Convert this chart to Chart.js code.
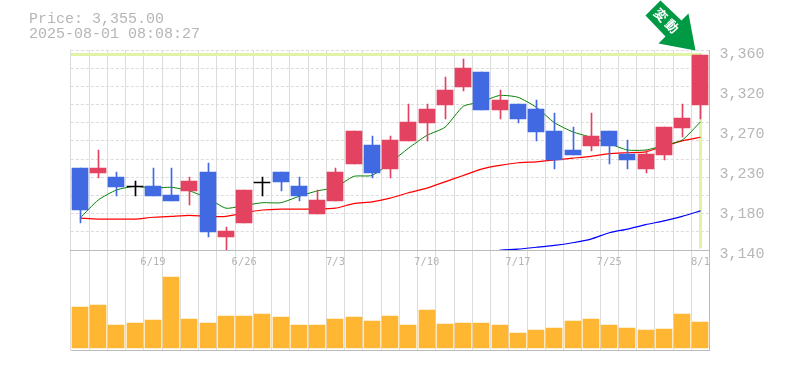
<!DOCTYPE html>
<html lang="ja">
<head>
<meta charset="utf-8">
<title>Price chart</title>
<script src="https://cdn.jsdelivr.net/npm/chart.js@4"></script>
<style>
    html, body { margin: 0; padding: 0; background: #ffffff; }
    canvas { display: block; }
</style>
</head>
<body>
<canvas id="priceChart" width="785" height="370"></canvas>
<script>
// Daily sessions
const dates = ['6/13', '6/16', '6/17', '6/18', '6/19', '6/20', '6/23', '6/24', '6/25', '6/26', '6/27', '6/30',
    '7/1', '7/2', '7/3', '7/4', '7/7', '7/8', '7/9', '7/10', '7/11', '7/14', '7/15', '7/16', '7/17', '7/18',
    '7/22', '7/23', '7/24', '7/25', '7/28', '7/29', '7/30', '7/31', '8/1'];
const dateTicks = ['6/19', '6/26', '7/3', '7/10', '7/17', '7/25', '8/1'];

// Candles
const opens = [3230, 3225, 3220, 3210, 3210, 3200, 3205, 3226, 3154, 3170, 3215, 3226, 3210, 3180, 3194, 3235, 3255, 3229,
    3260, 3280, 3300, 3319, 3336, 3294, 3301, 3295, 3271, 3250, 3254, 3271, 3246, 3229, 3245, 3274, 3300];
const highs = [3230, 3250, 3226, 3216, 3230, 3230, 3220, 3236, 3165, 3206, 3220, 3226, 3220, 3206, 3230, 3271, 3265, 3265,
    3301, 3301, 3330, 3350, 3336, 3316, 3301, 3305, 3291, 3275, 3291, 3271, 3261, 3250, 3275, 3301, 3355];
const lows = [3170, 3219, 3199, 3199, 3199, 3194, 3190, 3154, 3140, 3170, 3199, 3205, 3194, 3180, 3194, 3235, 3219, 3219,
    3260, 3260, 3284, 3315, 3294, 3284, 3280, 3260, 3229, 3245, 3249, 3235, 3229, 3225, 3239, 3264, 3284];
const closes = [3184, 3230, 3209, 3210, 3199, 3194, 3216, 3160, 3161, 3206, 3215, 3215, 3199, 3195, 3226, 3271, 3225, 3261,
    3281, 3295, 3316, 3340, 3294, 3305, 3284, 3270, 3239, 3245, 3265, 3254, 3239, 3246, 3275, 3285, 3355];

// Moving averages
const maShort = [3175, 3195, 3206, 3210, 3208, 3209, 3205, 3197, 3186, 3189, 3192, 3192, 3199, 3205, 3209, 3221, 3222, 3236,
    3252, 3266, 3275, 3298, 3303, 3310, 3308, 3297, 3280, 3270, 3264, 3257, 3250, 3250, 3255, 3261, 3281];
const maMiddle = [3175, 3174, 3174, 3174, 3176, 3177, 3178, 3177, 3177, 3181, 3184, 3185, 3185, 3185, 3186, 3191, 3193, 3197,
    3203, 3208, 3215, 3222, 3229, 3233, 3236, 3237, 3239, 3241, 3243, 3246, 3247, 3248, 3254, 3260, 3264];
const maLong = [null, null, null, null, null, null, null, null, null, null, null, null, null, null, null, null, null, null,
    null, null, null, null, null, 3140, 3141, 3143, 3145, 3148, 3152, 3159, 3163, 3168, 3172, 3177, 3183];

// Volume, relative heights
const volumes = [41, 43, 23, 25, 28, 71, 29, 25, 32, 32, 34, 31, 23, 23, 29, 31, 27, 32,
    23, 38, 24, 25, 25, 23, 15, 18, 20, 27, 29, 23, 20, 18, 19, 34, 26];

// Price axis
const priceTicks = [3360, 3316, 3272, 3228, 3184, 3140];
const priceLabels = ['3,360', '3,320', '3,270', '3,230', '3,180', '3,140'];
const gridPrices = [3360, 3340, 3320, 3300, 3280, 3260, 3240, 3220, 3200, 3180, 3160];

const headerLines = ['Price: 3,355.00', '2025-08-01 08:08:27'];
const arrowLabel = '変動';

const GRID_COLOR = '#dcdcdc';
const AXIS_COLOR = '#bbbbbb';
const TEXT_COLOR = '#b6b6b6';
const UP_COLOR = '#e34260';
const DOWN_COLOR = '#4169e1';
const MONO = '"Liberation Mono", monospace';

function candleColor(i) {
    if (opens[i] === closes[i]) return '#000000';
    return closes[i] > opens[i] ? UP_COLOR : DOWN_COLOR;
}

function roundDown(v) {
    return Math.ceil(v - 0.5);
}

// Bars land on whole pixels in the original, so snap them
const crispBars = {
    id: 'crispBars',
    afterDatasetsUpdate(chart) {
        chart.data.datasets.forEach((ds, i) => {
            if (ds.type !== 'bar') return;
            chart.getDatasetMeta(i).data.forEach(el => {
                el.x = roundDown(el.x - 0.01);
                if (ds.isWick) el.x += 0.5;
                el.y = roundDown(el.y);
                el.base = roundDown(el.base);
                if (el.y === el.base) el.base = el.y + 1;
            });
        });
    }
};

// Pale cross at the last price
const lastPriceCross = {
    id: 'lastPriceCross',
    beforeDatasetsDraw(chart) {
        const { ctx, chartArea, scales } = chart;
        const last = closes.length - 1;
        const x = roundDown(scales.x.getPixelForValue(last) - 0.01) + 0.5;
        const y = scales.y.getPixelForValue(closes[last]);
        ctx.save();
        ctx.strokeStyle = '#e0f3a6';
        ctx.lineWidth = 3;
        ctx.beginPath();
        ctx.moveTo(chartArea.left, y);
        ctx.lineTo(x + 1.5, y);
        ctx.moveTo(x, y);
        ctx.lineTo(x, scales.y.bottom - 1.5);
        ctx.stroke();
        ctx.restore();
    }
};

// Two header lines and the green arrow on the last candle
const overlays = {
    id: 'overlays',
    afterDraw(chart) {
        const { ctx, scales } = chart;
        const last = closes.length - 1;
        const tipX = scales.x.getPixelForValue(last) - 5;
        const tipY = scales.y.getPixelForValue(closes[last]) - 4;

        ctx.save();
        ctx.fillStyle = TEXT_COLOR;
        ctx.font = '15px ' + MONO;
        ctx.textAlign = 'left';
        ctx.textBaseline = 'alphabetic';
        ctx.fillText(headerLines[0], 29, 23);
        ctx.fillText(headerLines[1], 29, 38);

        ctx.fillStyle = '#009944';
        ctx.beginPath();
        ctx.moveTo(tipX, tipY);
        ctx.lineTo(tipX - 7, tipY - 37);
        ctx.lineTo(tipX - 14, tipY - 30);
        ctx.lineTo(tipX - 35, tipY - 50);
        ctx.lineTo(tipX - 50, tipY - 35);
        ctx.lineTo(tipX - 30, tipY - 14);
        ctx.lineTo(tipX - 37, tipY - 7);
        ctx.closePath();
        ctx.fill();

        ctx.translate(tipX - 28, tipY - 29);
        ctx.rotate(Math.PI / 4);
        ctx.fillStyle = '#ffffff';
        ctx.font = 'bold 13px "Noto Sans CJK JP"';
        ctx.letterSpacing = '3px';
        ctx.textAlign = 'center';
        ctx.textBaseline = 'middle';
        ctx.fillText(arrowLabel, 0, 0);
        ctx.restore();
    }
};

const chart = new Chart(document.getElementById('priceChart'), {
    data: {
        labels: dates,
        datasets: [
            { type: 'bar', isBody: true, data: opens.map((o, i) => [o, closes[i]]), order: 1, grouped: false,
              barThickness: 16, backgroundColor: ctx => candleColor(ctx.dataIndex), yAxisID: 'y' },
            { type: 'bar', isWick: true, data: lows.map((l, i) => [l, highs[i]]), order: 2, grouped: false,
              barThickness: 1, backgroundColor: ctx => candleColor(ctx.dataIndex), yAxisID: 'y' },
            { type: 'line', data: maShort, order: 3, borderColor: '#008000', borderWidth: 1, pointRadius: 0, tension: 0.2, yAxisID: 'y' },
            { type: 'line', data: maMiddle, order: 4, borderColor: '#ff0000', borderWidth: 1.2, pointRadius: 0, tension: 0.2, yAxisID: 'y' },
            { type: 'line', data: maLong, order: 5, borderColor: '#0000ff', borderWidth: 1.2, pointRadius: 0, tension: 0.2, yAxisID: 'y' },
            { type: 'bar', data: volumes, order: 6, grouped: false, barThickness: 16, backgroundColor: '#ffb733', yAxisID: 'yVol' }
        ]
    },
    options: {
        responsive: false,
        animation: false,
        events: [],
        layout: { padding: { left: 70.865, top: 50, bottom: 20 } },
        plugins: { legend: { display: false }, tooltip: { enabled: false } },
        scales: {
            x: {
                type: 'category',
                position: { yVol: 98 },
                offset: true,
                grid: { color: GRID_COLOR, offset: true, drawTicks: false },
                border: { color: AXIS_COLOR },
                ticks: {
                    autoSkip: false,
                    maxRotation: 0,
                    padding: 6,
                    color: TEXT_COLOR,
                    font: { family: '"DejaVu Sans Mono", monospace', size: 10.5 },
                    callback(value) {
                        const d = this.getLabelForValue(value);
                        return dateTicks.includes(d) ? d : '';
                    }
                }
            },
            y: {
                position: 'right',
                stack: 'panes',
                stackWeight: 2,
                min: 3140,
                max: 3360,
                afterFit(scale) { scale.width = 75.385; },
                afterBuildTicks(scale) {
                    const all = [...new Set(priceTicks.concat(gridPrices))].sort((a, b) => a - b);
                    scale.ticks = all.map(v => ({ value: v }));
                },
                grid: {
                    drawTicks: false,
                    color: ctx => gridPrices.includes(ctx.tick.value) ? GRID_COLOR : 'rgba(0,0,0,0)'
                },
                border: { color: AXIS_COLOR, dash: [3, 2] },
                ticks: {
                    autoSkip: false,
                    padding: 10,
                    labelOffset: 4,
                    color: TEXT_COLOR,
                    font: { family: MONO, size: 15 },
                    callback(value) {
                        const i = priceTicks.indexOf(value);
                        return i >= 0 ? priceLabels[i] : '';
                    }
                }
            },
            yVol: {
                position: 'right',
                stack: 'panes',
                stackWeight: 1,
                min: -2,
                max: 98,
                afterFit(scale) { scale.width = 75.385; },
                afterBuildTicks(scale) { scale.ticks = [{ value: -2 }]; },
                grid: { drawTicks: false, color: AXIS_COLOR },
                border: { color: AXIS_COLOR },
                ticks: { display: false }
            }
        }
    },
    plugins: [crispBars, lastPriceCross, overlays]
});
</script>
</body>
</html>
